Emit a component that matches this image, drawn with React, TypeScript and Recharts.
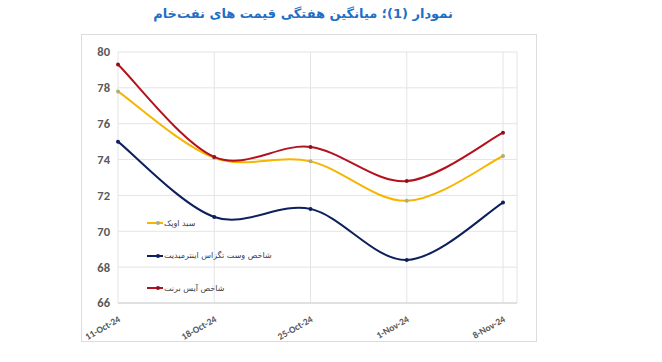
import { LineChart, Line, XAxis, YAxis, CartesianGrid } from 'recharts'

const weeks = ['11-Oct-24', '18-Oct-24', '25-Oct-24', '1-Nov-24', '8-Nov-24']
const opecBasket = [77.8, 74.1, 73.9, 71.7, 74.2]
const wti = [75.0, 70.8, 71.25, 68.4, 71.6]
const brent = [79.3, 74.15, 74.7, 72.8, 75.5]
const yTicks = [66, 68, 70, 72, 74, 76, 78, 80]

const seriesNames = ['سبد اوپک', 'شاخص وست تگزاس اینترمیدیت', 'شاخص آیس برنت']
const seriesColors = ['#f7b500', '#0d1f5c', '#b3121d']
const dotColors = ['#a8ad86', '#0d1f5c', '#8e1020']

const chartData = weeks.map((w, i) => ({
  week: w,
  opec: opecBasket[i],
  wti: wti[i],
  brent: brent[i]
}))

// Excel-like smoothed line (uniform Catmull-Rom as cubic beziers)
const excelCurve = (context: any) => {
  let pts: number[][] = []
  return {
    areaStart() {},
    areaEnd() {},
    lineStart() { pts = [] },
    point(x: number, y: number) { pts.push([+x, +y]) },
    lineEnd() {
      const n = pts.length
      if (!n) return
      context.moveTo(pts[0][0], pts[0][1])
      for (let i = 0; i < n - 1; i++) {
        const p0 = pts[Math.max(i - 1, 0)]
        const p1 = pts[i]
        const p2 = pts[i + 1]
        const p3 = pts[Math.min(i + 2, n - 1)]
        context.bezierCurveTo(
          p1[0] + (p2[0] - p0[0]) / 6, p1[1] + (p2[1] - p0[1]) / 6,
          p2[0] - (p3[0] - p1[0]) / 6, p2[1] - (p3[1] - p1[1]) / 6,
          p2[0], p2[1]
        )
      }
    }
  }
}

const XTick = ({ x, y, payload }: any) => (
  <text
    x={x + 3}
    y={y + 10}
    transform={`rotate(-30, ${x + 3}, ${y + 10})`}
    textAnchor="end"
    fontSize={9.5}
    fontWeight={700}
    fill="#595959"
    fontFamily="Calibri, Carlito, 'Liberation Sans', Arial, sans-serif"
  >
    {payload.value}
  </text>
)

const App = () => {
  return (
    <div style={{ position: 'relative', width: 662, height: 362, background: 'white' }}>
      <style>{'body{margin:0}'}</style>
      <div style={{
        position: 'absolute',
        left: 81,
        top: 34,
        width: 456,
        height: 308,
        border: '1px solid #dcdcdc',
        boxSizing: 'border-box'
      }} />
      <div dir="rtl" style={{
        position: 'absolute',
        left: 0,
        width: 606,
        top: 6,
        textAlign: 'center',
        fontFamily: "'DejaVu Sans', sans-serif",
        fontWeight: 700,
        fontSize: '13px',
        color: '#1f6fc5'
      }}>
        نمودار (1)؛ میانگین هفتگی قیمت های نفت‌خام
      </div>
      <LineChart
        width={662}
        height={362}
        data={chartData}
        margin={{ top: 52, right: 145, bottom: 0, left: 80 }}
        style={{ position: 'absolute', left: 0, top: 0 }}
      >
        <CartesianGrid stroke="#e4e4e4" strokeWidth={1} />
        <XAxis
          dataKey="week"
          interval={0}
          padding={{ left: 0, right: 14 }}
          height={59}
          tickLine={false}
          axisLine={{ stroke: '#d0d0d0' }}
          tick={<XTick />}
        />
        <YAxis
          domain={[66, 80]}
          ticks={yTicks}
          width={38}
          tickLine={false}
          axisLine={false}
          tickMargin={2}
          tick={{ fontSize: 12.5, fontWeight: 700, fill: '#595959', fontFamily: "Calibri, Carlito, 'Liberation Sans', sans-serif" }}
        />
        <Line
          dataKey="opec"
          name={seriesNames[0]}
          type={excelCurve as any}
          stroke={seriesColors[0]}
          strokeWidth={2}
          dot={{ r: 2, fill: dotColors[0], stroke: dotColors[0], strokeWidth: 0 }}
          isAnimationActive={false}
        />
        <Line
          dataKey="wti"
          name={seriesNames[1]}
          type={excelCurve as any}
          stroke={seriesColors[1]}
          strokeWidth={2}
          dot={{ r: 2, fill: dotColors[1], stroke: dotColors[1], strokeWidth: 0 }}
          isAnimationActive={false}
        />
        <Line
          dataKey="brent"
          name={seriesNames[2]}
          type={excelCurve as any}
          stroke={seriesColors[2]}
          strokeWidth={2}
          dot={{ r: 2, fill: dotColors[2], stroke: dotColors[2], strokeWidth: 0 }}
          isAnimationActive={false}
        />
      </LineChart>
      {/* Legend sits inside the plot area, bottom-left */}
      <div style={{ position: 'absolute', left: 147, top: 207, fontFamily: "'DejaVu Sans', sans-serif" }}>
        {seriesNames.map((name, i) => (
          <div key={name} style={{ display: 'flex', alignItems: 'center', height: '32.5px' }}>
            <svg width={16} height={6} style={{ marginRight: 1 }}>
              <line x1={0} y1={3} x2={16} y2={3} stroke={seriesColors[i]} strokeWidth={2} />
              <circle cx={11} cy={3} r={2} fill={dotColors[i]} />
            </svg>
            <span dir="rtl" style={{ fontSize: '8px', color: '#404040' }}>{name}</span>
          </div>
        ))}
      </div>
    </div>
  )
}

export default App
